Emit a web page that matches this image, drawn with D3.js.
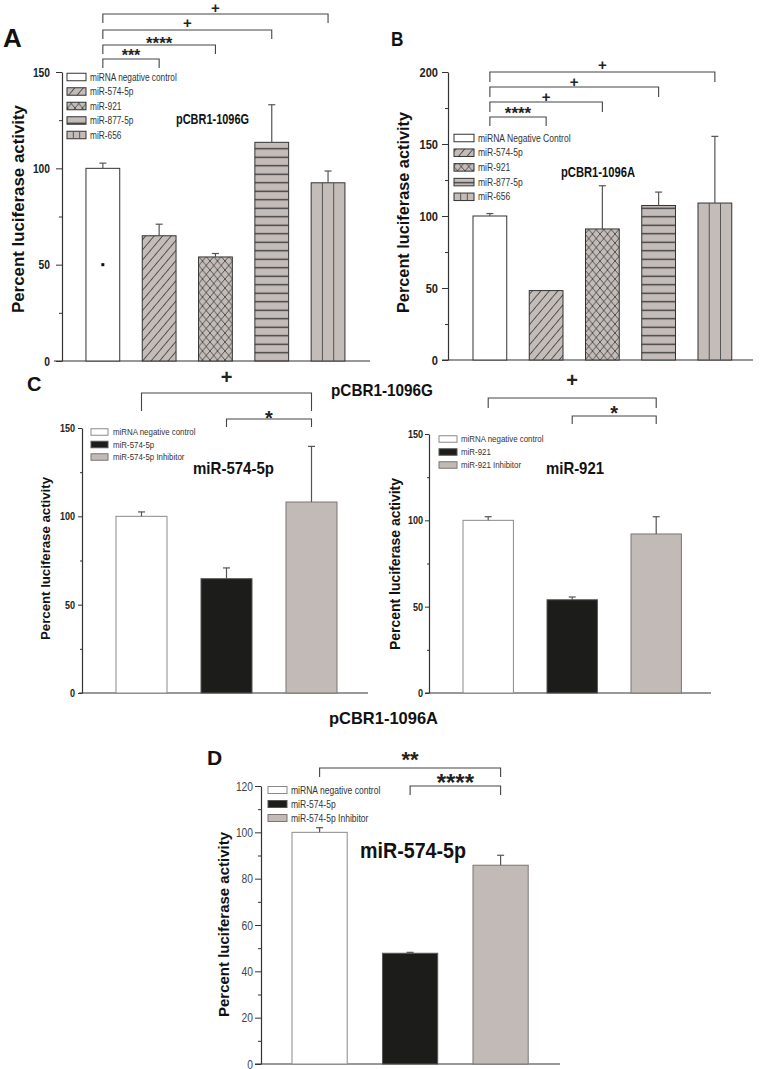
<!DOCTYPE html>
<html><head><meta charset="utf-8">
<script src="https://cdn.jsdelivr.net/npm/d3@7"></script>
<style>body{margin:0;background:#fff}</style>
</head><body>
<svg id="c" width="760" height="1069" xmlns="http://www.w3.org/2000/svg"></svg>
<script>
// ---------------- DATA ----------------
const catsA = ["miRNA negative control","miR-574-5p","miR-921","miR-877-5p","miR-656"];
const valsA = [100, 65, 54, 113.5, 92.5];
const errA  = [2.7, 6, 1.8, 19.5, 6.1];
const strayA = [50];
const catsB = ["miRNA Negative Control","miR-574-5p","miR-921","miR-877-5p","miR-656"];
const valsB = [100, 48.2, 91, 107.3, 109];
const errB  = [1.7, 0, 30, 9.3, 46.3];
const catsC1 = ["miRNA negative control","miR-574-5p","miR-574-5p Inhibitor"];
const valsC1 = [100, 64.7, 108.1];
const errC1  = [2.5, 6.1, 31.5];
const catsC2 = ["miRNA negative control","miR-921","miR-921 Inhibitor"];
const valsC2 = [100, 54, 92.1];
const errC2  = [2.1, 1.6, 10];
const catsD = ["miRNA negative control","miR-574-5p","miR-574-5p Inhibitor"];
const valsD = [100, 47.8, 85.8];
const errD  = [2, 0.4, 4.3];
const ticksAC = [0, 50, 100, 150];
const minorAC = [25, 75, 125];
const ticksB = [0, 50, 100, 150, 200];
const minorB = [25, 75, 125, 175];
const ticksD = [0, 20, 40, 60, 80, 100, 120];
const minorD = [10, 30, 50, 70, 90, 110];
const sigA = [[0,1,"***"],[0,2,"****"],[0,3,"+"],[0,4,"+"]];
const sigB = [[0,1,"****"],[0,2,"+"],[0,3,"+"],[0,4,"+"]];
const sigC1 = [[0,2,"+"],[1,2,"*"]];
const sigC2 = [[0,2,"+"],[1,2,"*"]];
const sigD = [[0,2,"**"],[1,2,"****"]];
const yLabel = "Percent luciferase activity";

// ---------------- STYLE ----------------
const SANS = "'Liberation Sans', Arial, Helvetica, sans-serif";
const PATGRAY = "#c4bcb8";
const NARROWF = 0.82;
const stylesAB = ["white","hatch","cross","hlines","vlines"];
const stylesCD = ["white","black","gray"];

const svg = d3.select("#c");
const defs = svg.append("defs");
const ph = defs.append("pattern").attr("id","hatch").attr("patternUnits","userSpaceOnUse")
  .attr("width",6.5).attr("height",10).attr("patternTransform","rotate(40)");
ph.append("rect").attr("width",6.5).attr("height",10).attr("fill",PATGRAY);
ph.append("line").attr("x1",3.25).attr("x2",3.25).attr("y1",0).attr("y2",10).attr("stroke","#444").attr("stroke-width",0.9);
const pc = defs.append("pattern").attr("id","cross").attr("patternUnits","userSpaceOnUse")
  .attr("width",7.5).attr("height",9);
pc.append("rect").attr("width",7.5).attr("height",9).attr("fill",PATGRAY);
pc.append("path").attr("d","M0,0L7.5,9M7.5,0L0,9").attr("stroke","#444").attr("stroke-width",0.9).attr("fill","none");
const pl = defs.append("pattern").attr("id","hlines").attr("patternUnits","userSpaceOnUse")
  .attr("width",10).attr("height",8.5);
pl.append("rect").attr("width",10).attr("height",8.5).attr("fill",PATGRAY);
pl.append("line").attr("x1",0).attr("x2",10).attr("y1",4.25).attr("y2",4.25).attr("stroke","#333").attr("stroke-width",1.3);

function fillOf(s){
  return {white:"#fff", hatch:"url(#hatch)", cross:"url(#cross)", hlines:"url(#hlines)", vlines:PATGRAY,
          black:"#1c1c1a", gray:"#c2bab6"}[s];
}
function strokeOf(s, base){
  if (base) return base;
  return {white:"#8a8a8a", black:"#555", gray:"#7d7573"}[s];
}
function narrow(sel, f){
  sel.each(function(){
    const w = this.getComputedTextLength();
    if (w > 0) d3.select(this).attr("textLength", w*(f||NARROWF)).attr("lengthAdjust","spacingAndGlyphs");
  });
}
function drawBox(g, s, x, y, w, h, stroke){
  g.append("rect").attr("x",x).attr("y",y).attr("width",w).attr("height",h)
    .attr("fill",fillOf(s)).attr("stroke",strokeOf(s,stroke)).attr("stroke-width",1);
  if (s === "vlines") {
    d3.range(1,3).forEach(k => {
      g.append("line").attr("x1",x+w*k/3).attr("x2",x+w*k/3).attr("y1",y).attr("y2",y+h)
        .attr("stroke","#555").attr("stroke-width",1);
    });
  }
}
function txt(g, str, x, y, o){
  const t = g.append("text").attr("x",x).attr("y",y).text(str)
    .attr("font-family",SANS).attr("font-size",o.size)
    .attr("font-weight",o.weight||"normal").attr("fill",o.fill||"#111")
    .attr("text-anchor",o.anchor||"start");
  if (o.len) t.attr("textLength",o.len).attr("lengthAdjust","spacingAndGlyphs");
  else if (o.narrow) narrow(t, o.narrow);
  if (o.rotate) t.attr("transform",`rotate(${o.rotate},${x},${y})`);
  return t;
}

function panel(c){
  const g = svg.append("g");
  const x = d3.scaleBand().domain(c.cats).range(c.xr).paddingInner(c.pi).paddingOuter(c.po);
  const y = d3.scaleLinear().domain([0,c.ymax]).range([c.y0,c.y1]);
  g.append("line").attr("x1",c.xl[0]).attr("x2",c.xl[1]).attr("y1",y(0)).attr("y2",y(0))
    .attr("stroke","#333").attr("stroke-width",1.2);
  c.cats.forEach((cat,i)=>{
    drawBox(g, c.styles[i], x(cat), y(c.vals[i]), x.bandwidth(), y(0)-y(c.vals[i]), c.barStroke);
  });
  c.cats.forEach((cat,i)=>{
    if (!c.errs[i]) return;
    const cx = x(cat)+x.bandwidth()/2;
    g.append("line").attr("x1",cx).attr("x2",cx).attr("y1",y(c.vals[i])).attr("y2",y(c.vals[i]+c.errs[i]))
      .attr("stroke","#555").attr("stroke-width",1.2);
    g.append("line").attr("x1",cx-3.5).attr("x2",cx+3.5).attr("y1",y(c.vals[i]+c.errs[i])).attr("y2",y(c.vals[i]+c.errs[i]))
      .attr("stroke","#555").attr("stroke-width",1.2);
  });
  const ga = g.append("g").attr("transform",`translate(${c.ax},0)`)
    .call(d3.axisLeft(y).tickValues(c.ticks).tickSize(c.tick).tickPadding(c.pad).tickSizeOuter(0));
  ga.select(".domain").attr("stroke","#333").attr("stroke-width",1.2);
  ga.selectAll(".tick line").attr("stroke","#333");
  const tt = ga.selectAll(".tick text").attr("font-family",SANS).attr("font-size",c.tf.size)
    .attr("font-weight",c.tf.weight).attr("fill",c.tf.fill);
  narrow(tt);
  const gm = g.append("g").attr("transform",`translate(${c.ax},0)`)
    .call(d3.axisLeft(y).tickValues(c.minor).tickSize(c.mtick).tickFormat(""));
  gm.select(".domain").remove();
  gm.selectAll(".tick line").attr("stroke","#333");
  txt(g, yLabel, c.yl.x, c.yl.y, {size:c.yl.size, weight:"bold", anchor:"middle", rotate:-90, len:c.yl.len, fill:"#111"});
  const L = c.leg;
  c.cats.forEach((cat,i)=>{
    const cy = L.y + i*L.step;
    drawBox(g, c.styles[i], L.x, cy-L.h/2, L.w, L.h, c.barStroke);
    txt(g, cat, L.tx, cy + L.size*0.35, {size:L.size, fill:"#333", narrow:0.83});
  });
  txt(g, c.title.t, c.title.x, c.title.y, {size:c.title.size, weight:"bold", anchor:"middle", len:c.title.len});
  c.sig.forEach((s,k)=>{
    const x1 = x(c.cats[s[0]])+x.bandwidth()/2, x2 = x(c.cats[s[1]])+x.bandwidth()/2;
    const yy = c.sigY[k], d = c.drop[k];
    g.append("path").attr("d",`M${x1},${yy+d}V${yy}H${x2}V${yy+d}`)
      .attr("fill","none").attr("stroke","#444").attr("stroke-width",1.1);
    const lab = s[2], sz = c.sigSize[k];
    const kk = lab[0]==="+" ? 0.345 : 0.585;
    const cyT = yy - c.sigOff[k];
    txt(g, lab, (x1+x2)/2, cyT + kk*sz, {size:sz, weight:"bold", anchor:"middle", fill:"#222"});
  });
  if (c.letter) txt(g, c.letter.t, c.letter.x, c.letter.y, {size:c.letter.size, weight:"bold", narrow:c.letter.narrow});
  return {g, x, y};
}

const pA = panel({cats:catsA, vals:valsA, errs:errA, styles:stylesAB, barStroke:"#333",
  xr:[74.7,356.2], pi:0.4, po:0.2, ymax:150, y0:361, y1:72, ticks:ticksAC, minor:minorAC,
  ax:62, tick:6, mtick:3, pad:6, tf:{size:12.5, weight:"bold", fill:"#222"}, xl:[54,370],
  yl:{x:24, y:209, size:17, len:208},
  leg:{x:67, y:77, step:14.5, w:19, h:7.5, tx:90, size:10},
  title:{t:"pCBR1-1096G", x:212.5, y:124, size:14, len:73},
  sig:sigA, sigY:[59,45,30,14], drop:[9,9,9,9], sigOff:[7,6,7,6], sigSize:[16,17,15,15],
  letter:{t:"A", x:3, y:47, size:26}});
strayA.forEach(v=>{
  const cx = pA.x(catsA[0]) + pA.x.bandwidth()/2;
  pA.g.append("rect").attr("x",cx-1.5).attr("y",pA.y(v)-1.5).attr("width",3).attr("height",3).attr("fill","#111");
});

panel({cats:catsB, vals:valsB, errs:errB, styles:stylesAB, barStroke:"#333",
  xr:[461.75,743], pi:0.4, po:0.2, ymax:200, y0:360, y1:72, ticks:ticksB, minor:minorB,
  ax:448, tick:6, mtick:3, pad:4, tf:{size:13.5, weight:"bold", fill:"#222"}, xl:[442,753],
  yl:{x:408.5, y:212.5, size:16.3, len:201},
  leg:{x:454, y:138, step:14.7, w:20, h:7.5, tx:478, size:10.3},
  title:{t:"pCBR1-1096A", x:598, y:177, size:14, len:74},
  sig:sigB, sigY:[117,102,87,72], drop:[9,10,10,10], sigOff:[8,5,5,7], sigSize:[17,15,15,15],
  letter:{t:"B", x:391, y:46, size:21, narrow:0.82}});

panel({cats:catsC1, vals:valsC1, errs:errC1, styles:stylesCD,
  xr:[90.5,362.5], pi:0.4, po:0.3, ymax:150, y0:693, y1:428, ticks:ticksAC, minor:minorAC,
  ax:82, tick:4, mtick:2, pad:3, tf:{size:11, weight:"bold", fill:"#222"}, xl:[79,368],
  yl:{x:50, y:558.5, size:13.2, len:163},
  leg:{x:91, y:432, step:12.5, w:17, h:6.5, tx:113, size:9.5},
  title:{t:"miR-574-5p", x:233.5, y:474, size:16.5, len:81},
  sig:sigC1, sigY:[393,419], drop:[18,8], sigOff:[16,6], sigSize:[20,20],
  letter:{t:"C", x:27, y:391, size:20}});

panel({cats:catsC2, vals:valsC2, errs:errC2, styles:stylesCD,
  xr:[437.8,706.6], pi:0.4, po:0.3, ymax:150, y0:693, y1:434, ticks:ticksAC, minor:minorAC,
  ax:429, tick:4, mtick:2, pad:2, tf:{size:11, weight:"bold", fill:"#222"}, xl:[425,711],
  yl:{x:400, y:564, size:14, len:172},
  leg:{x:439, y:439, step:13, w:18, h:6.5, tx:461, size:9.5},
  title:{t:"miR-921", x:575, y:474, size:16.5, len:58},
  sig:sigC2, sigY:[398,416], drop:[10,8], sigOff:[18,8], sigSize:[20,20],
  letter:null});

panel({cats:catsD, vals:valsD, errs:errD, styles:stylesCD,
  xr:[264.85,555.35], pi:0.39, po:0.3, ymax:120, y0:1064, y1:786, ticks:ticksD, minor:minorD,
  ax:261, tick:6, mtick:3, pad:2, tf:{size:12.5, weight:"normal", fill:"#444"}, xl:[255,560],
  yl:{x:229, y:924.5, size:15, len:185},
  leg:{x:268, y:790, step:14, w:19, h:7, tx:291, size:10.3},
  title:{t:"miR-574-5p", x:413, y:858, size:22, len:106},
  sig:sigD, sigY:[768,786], drop:[9,9], sigOff:[14,9], sigSize:[22,24],
  letter:{t:"D", x:207, y:765, size:21}});

const hdr = svg.append("g");
txt(hdr, "pCBR1-1096G", 382, 396, {size:17, weight:"bold", anchor:"middle", len:102});
txt(hdr, "pCBR1-1096A", 383.5, 724, {size:17, weight:"bold", anchor:"middle", len:109});
</script>
</body></html>
